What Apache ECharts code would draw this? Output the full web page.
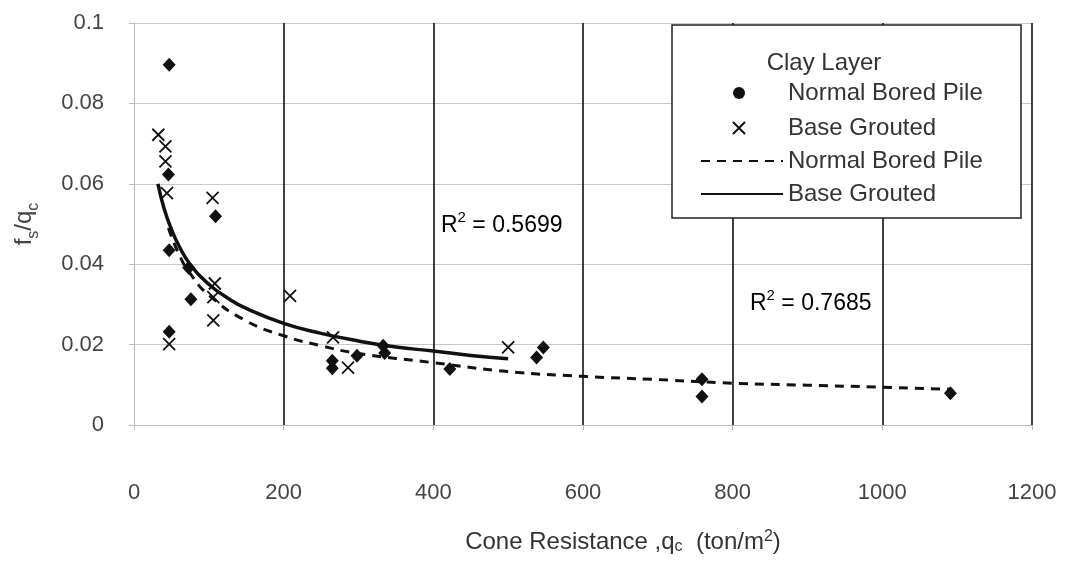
<!DOCTYPE html>
<html>
<head>
<meta charset="utf-8">
<script src="https://cdn.jsdelivr.net/npm/echarts@6/dist/echarts.min.js"></script>
<style>html,body{margin:0;padding:0;background:#fff;}#c{width:1071px;height:565px;}</style>
</head>
<body>
<div id="c"></div>
<script>
// ---- data ----
// Normal Bored Pile (diamonds)
const nbpX = [47, 46, 109, 47, 73, 76, 47, 265, 265, 298, 333, 335, 422, 547, 538, 759, 759, 1091];
const nbpY = [0.0896, 0.0623, 0.0519, 0.0435, 0.0391, 0.0313, 0.0232, 0.0160, 0.0141, 0.0172, 0.0197, 0.0179, 0.0139, 0.0193, 0.0168, 0.0114, 0.0071, 0.0079];
// Base Grouted (crosses)
const bgX = [32.5, 42, 42, 44, 105, 108, 106, 106, 47, 208.5, 266, 286, 500];
const bgY = [0.0722, 0.0693, 0.0656, 0.0577, 0.0565, 0.0352, 0.0318, 0.0260, 0.0201, 0.0321, 0.0218, 0.0143, 0.0193];
// trend line (Normal Bored Pile)
const trendNX = [46, 60, 75, 100, 150, 200, 250, 300, 400, 500, 600, 700, 800, 900, 1000, 1091];
const trendNY = [0.0490, 0.0425, 0.0377, 0.0323, 0.0259, 0.0222, 0.0197, 0.0178, 0.0155, 0.0133, 0.0121, 0.0113, 0.0104, 0.0099, 0.0094, 0.0089];
// trend line (Base Grouted)
const trendBX = [32, 40, 50, 60, 75, 100, 125, 150, 200, 250, 300, 350, 400, 450, 500];
const trendBY = [0.0600, 0.0540, 0.0487, 0.0446, 0.0400, 0.0350, 0.0316, 0.0290, 0.0253, 0.0228, 0.0209, 0.0194, 0.0184, 0.0173, 0.0165];
// axes
const xMin = 0, xMax = 1200, xStep = 200;
const yMin = 0, yMax = 0.1, yStep = 0.02;
const r2Labels = ['0.5699', '0.7685'];
const legendTitle = 'Clay Layer';
const seriesNames = ['Normal Bored Pile', 'Base Grouted', 'Normal Bored Pile ', 'Base Grouted '];

const FF = "'Liberation Sans', Arial, sans-serif";
const INK = '#111';
const crossPath = 'path://M0,0L10,10M10,0L0,10';
const zip = (a, b) => a.map((v, i) => [v, b[i]]);

const chart = echarts.init(document.getElementById('c'));
const supRich = {
  r: { fontSize: 23, lineHeight: 24, padding: [8, 0, 0, 0], color: '#333', fontFamily: FF },
  p: { fontSize: 15, lineHeight: 15, verticalAlign: 'top', color: '#333', fontFamily: FF }
};
chart.setOption({
  animation: false,
  backgroundColor: '#fff',
  grid: { left: 134, right: 39, top: 23, bottom: 139, containLabel: false },
  xAxis: {
    type: 'value', min: xMin, max: xMax, interval: xStep,
    axisLine: { show: true, onZero: false, lineStyle: { color: '#bbb', width: 1 } },
    axisTick: { show: true, length: 5, lineStyle: { color: '#bbb' } },
    axisLabel: { margin: 57, fontSize: 22, color: '#444', fontFamily: FF, formatter: v => String(v) },
    splitLine: { show: true, showMinLine: false, lineStyle: { color: '#111', width: 1.6 } },
    name: '{n|Cone Resistance ,q}{s|c}{n|  (ton/m}{p|2}{n|)}',
    nameLocation: 'middle', nameGap: 104,
    nameTextStyle: {
      padding: [0, 0, 0, 80],
      rich: {
        n: { fontSize: 24, lineHeight: 26, padding: [6, 0, 6, 0], color: '#333', fontFamily: FF },
        s: { fontSize: 16, lineHeight: 16, verticalAlign: 'bottom', color: '#333', fontFamily: FF },
        p: { fontSize: 16, lineHeight: 16, verticalAlign: 'top', color: '#333', fontFamily: FF }
      }
    }
  },
  yAxis: {
    type: 'value', min: yMin, max: yMax, interval: yStep,
    axisLine: { show: true, onZero: false, lineStyle: { color: '#bbb', width: 1 } },
    axisTick: { show: true, length: 5, lineStyle: { color: '#bbb' } },
    axisLabel: { margin: 30, fontSize: 22, color: '#444', fontFamily: FF },
    splitLine: { show: true, lineStyle: { color: '#c8c8c8', width: 1 } },
    name: '{n|f}{s|s}{n|/q}{s|c}',
    nameLocation: 'middle', nameGap: 92,
    nameTextStyle: {
      rich: {
        n: { fontSize: 24, lineHeight: 26, padding: [0, 0, 6, 0], verticalAlign: 'bottom', color: '#444', fontFamily: FF },
        s: { fontSize: 16, lineHeight: 16, verticalAlign: 'bottom', color: '#444', fontFamily: FF }
      }
    }
  },
  legend: [
    {
      orient: 'vertical', left: 732, top: 81, padding: 0, z: 10,
      itemWidth: 12, itemHeight: 12, itemGap: 11,
      selectedMode: false,
      textStyle: { fontSize: 24, color: '#333', fontFamily: FF, padding: [0, 0, 0, 38] },
      data: [
        { name: seriesNames[0], icon: 'circle', itemStyle: { color: INK, opacity: 1 } },
        { name: seriesNames[1], icon: crossPath, itemStyle: { color: 'transparent', borderColor: INK, borderWidth: 2, opacity: 1 } }
      ]
    },
    {
      orient: 'vertical', left: 700, top: 149, padding: 0, z: 10,
      itemWidth: 82, itemHeight: 12, itemGap: 9,
      selectedMode: false,
      textStyle: { fontSize: 24, color: '#333', fontFamily: FF },
      data: [seriesNames[2], seriesNames[3]]
    }
  ],
  graphic: [
    { type: 'rect', z: 5, shape: { x: 672, y: 25, width: 349, height: 193 },
      style: { fill: '#fff', stroke: '#222', lineWidth: 1.5 } },
    { type: 'text', z: 11, style: { x: 824, y: 63, text: legendTitle, align: 'center', verticalAlign: 'middle',
      fontSize: 24, fontFamily: FF, fill: '#333' } },
    { type: 'text', z: 11, style: { x: 441, y: 210, text: '{r|R}{p|2}{r| = ' + r2Labels[0] + '}', rich: supRich } },
    { type: 'text', z: 11, style: { x: 750, y: 288, text: '{r|R}{p|2}{r| = ' + r2Labels[1] + '}', rich: supRich } }
  ],
  series: [
    { name: seriesNames[0], type: 'scatter', data: zip(nbpX, nbpY), symbol: 'diamond', symbolSize: [13, 14],
      itemStyle: { color: INK, opacity: 1 }, z: 3 },
    { name: seriesNames[1], type: 'scatter', data: zip(bgX, bgY), symbol: crossPath, symbolSize: 12,
      itemStyle: { color: 'transparent', borderColor: INK, borderWidth: 1.8, opacity: 1 }, z: 3 },
    { name: seriesNames[2], type: 'line', data: zip(trendNX, trendNY), smooth: true, symbol: 'none',
      itemStyle: { color: 'transparent', borderWidth: 0 },
      lineStyle: { color: INK, width: 3, type: [9, 7] }, z: 4 },
    { name: seriesNames[3], type: 'line', data: zip(trendBX, trendBY), smooth: true, symbol: 'none',
      itemStyle: { color: 'transparent', borderWidth: 0 },
      lineStyle: { color: INK, width: 3.5 }, z: 4 }
  ]
});
</script>
</body>
</html>
